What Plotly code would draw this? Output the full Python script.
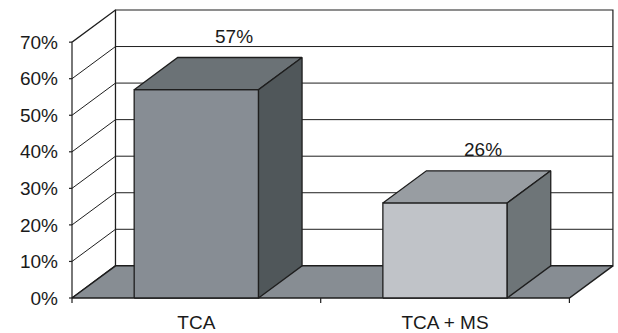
import plotly.graph_objects as go

# ---- data ----
categories = ["TCA", "TCA + MS"]
values = [57, 26]
value_labels = ["57%", "26%"]
y_ticks = [0, 10, 20, 30, 40, 50, 60, 70]
y_tick_labels = ["0%", "10%", "20%", "30%", "40%", "50%", "60%", "70%"]

# ---- styles / geometry ----
W, H = 618, 333
X0_PX, Y0_PX = 72, 298      # pixel of the front-left-bottom corner
UX, UY = 248.7, 3.655       # pixels per data unit
DX, DY = 0.175, 8.8         # oblique depth offset in data units
YMAX = 70
BAR_W = 0.5
L, R, T, B = 68, 4, 9, 29
FONT = "Liberation Sans, Arial, sans-serif"
FS = 19
front_cols = ["#878d94", "#c0c3c8"]
top_cols = ["#6b7276", "#989da2"]
side_cols = ["#50575a", "#6e7578"]
floor_col = "#878d93"
edge = "#1e1e1e"

n = len(categories)
x_range = [-(X0_PX - L) / UX, (W - R - X0_PX) / UX]
y_range = [-((H - B) - Y0_PX) / UY, (Y0_PX - T) / UY]

fig = go.Figure()


def poly(xs, ys, fill, lw=1.0, lc=edge):
    fig.add_trace(go.Scatter(
        x=xs + [xs[0]], y=ys + [ys[0]], mode="lines", fill="toself",
        fillcolor=fill, line=dict(color=lc, width=lw), hoverinfo="skip",
        showlegend=False))


# walls
poly([0, DX, DX, 0], [0, DY, YMAX + DY, YMAX], "white", 1.2)
poly([DX, n + DX, n + DX, DX], [DY, DY, YMAX + DY, YMAX + DY], "white", 1.2)

# gridlines
gx, gy = [], []
for v in y_ticks[1:-1]:
    gx += [0, DX, n + DX, None]
    gy += [v, v + DY, v + DY, None]
fig.add_trace(go.Scatter(x=gx, y=gy, mode="lines", line=dict(color=edge, width=1),
                         hoverinfo="skip", showlegend=False))

# tick marks
tx, ty = [], []
for v in y_ticks:
    tx += [-3 / UX, 0, None]
    ty += [v, v, None]
for i in range(n + 1):
    tx += [i, i, None]
    ty += [0, -5 / UY, None]
fig.add_trace(go.Scatter(x=tx, y=ty, mode="lines", line=dict(color=edge, width=1.2),
                         hoverinfo="skip", showlegend=False))

# floor
poly([0, n, n + DX, DX], [0, 0, DY, DY], floor_col, 1.5)

# bars
for i, v in enumerate(values):
    c = i + 0.5
    x0, x1 = c - BAR_W / 2, c + BAR_W / 2
    poly([x0, x1, x1, x0], [0, 0, v, v], front_cols[i], 1.3)
    poly([x0, x1, x1 + DX, x0 + DX], [v, v, v + DY, v + DY], top_cols[i], 1.3)
    poly([x1, x1 + DX, x1 + DX, x1], [0, DY, v + DY, v], side_cols[i], 1.3)
    fig.add_annotation(x=c + DX * 0.875, y=v + DY, text=value_labels[i],
                       showarrow=False, yshift=21, yanchor="middle",
                       font=dict(family=FONT, size=FS, color="#1a1a1a"))

fig.update_layout(
    width=W, height=H,
    margin=dict(l=L, r=R, t=T, b=B, pad=0, autoexpand=False),
    plot_bgcolor="white", paper_bgcolor="white",
    font=dict(family=FONT, size=FS, color="#1a1a1a"),
    xaxis=dict(range=x_range, tickmode="array",
               tickvals=[i + 0.5 for i in range(n)], ticktext=categories,
               showgrid=False, zeroline=False, showline=False, ticks="",
               ticklabelstandoff=5, automargin=False, fixedrange=True),
    yaxis=dict(range=y_range, tickmode="array", tickvals=y_ticks,
               ticktext=y_tick_labels, showgrid=False, zeroline=False,
               showline=False, ticks="", ticklabelstandoff=9, automargin=False,
               fixedrange=True),
)

fig.write_html("out.html")
